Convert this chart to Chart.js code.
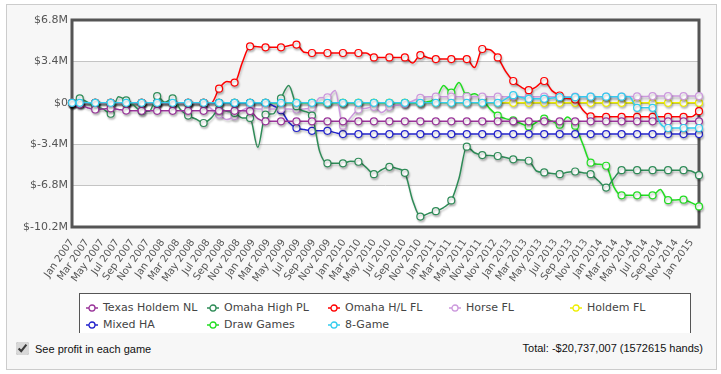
<!DOCTYPE html>
<html>
<head>
<meta charset="utf-8">
<script src="https://cdn.jsdelivr.net/npm/chart.js@4.4.1/dist/chart.umd.min.js"></script>
<style>
  body { margin: 0; width: 721px; height: 374px; background: #fff; position: relative; overflow: hidden; font-family: "DejaVu Sans", sans-serif; }
  #panel { position: absolute; left: 6px; top: 4px; width: 709px; height: 364px; border: 1px solid #ccc; background: #f7f7f7; }
  #chart { position: absolute; left: 0; top: 0; }
  #legend { position: absolute; left: 79px; top: 293px; width: 612px; height: 50px; border: 1px solid #555; background: #fff;
            display: grid; grid-template-columns: repeat(5, 121px); grid-auto-rows: 17px; padding: 5px 0 0 6px; box-sizing: border-box;
            font-size: 11px; color: #444; }
  #legend .item { display: flex; align-items: center; white-space: nowrap; }
  #legend svg { margin-right: 5px; }
  #footer { position: absolute; left: 7px; top: 333px; width: 708px; height: 35px; background: #f7f7f7;
            font-family: "Liberation Sans", Arial, sans-serif; font-size: 11px; color: #111; }
  #footer input { position: absolute; left: 9px; top: 9px; width: 13px; height: 13px; margin: 0; accent-color: #d8d8d8; }
  #footer .see { position: absolute; left: 28px; top: 9px; line-height: 14px; }
  #footer .total { position: absolute; right: 12px; top: 8px; line-height: 14px; }
</style>
</head>
<body>
<div id="panel"></div>
<canvas id="chart" width="721" height="290"></canvas>
<div id="legend"></div>
<div id="footer">
  <input type="checkbox" checked>
  <span class="see">See profit in each game</span>
  <span class="total">Total: -$20,737,007 (1572615 hands)</span>
</div>
<script>
// tick labels (every other data slot)
const xLabels = [
  "Jan 2007","Mar 2007","May 2007","Jul 2007","Sep 2007","Nov 2007",
  "Jan 2008","Mar 2008","May 2008","Jul 2008","Sep 2008","Nov 2008",
  "Jan 2009","Mar 2009","May 2009","Jul 2009","Sep 2009","Nov 2009",
  "Jan 2010","Mar 2010","May 2010","Jul 2010","Sep 2010","Nov 2010",
  "Jan 2011","Mar 2011","May 2011","Nov 2011","Nov 2012",
  "Jan 2013","Mar 2013","May 2013","Jul 2013","Sep 2013","Nov 2013",
  "Jan 2014","Mar 2014","May 2014","Jul 2014","Sep 2014","Nov 2014","Jan 2015"
];
const yTicks = [-10.2, -6.8, -3.4, 0, 3.4, 6.8];

const gameNames = ["Texas Holdem NL","Omaha High PL","Omaha H/L FL","Horse FL","Holdem FL","Mixed HA","Draw Games","8-Game"];
const gameColors = ["#993399","#2E8B57","#FF0000","#CC99DD","#EEEE00","#2222CC","#22DD22","#33CCEE"];

// profit in $M, one value per data slot (82 slots)
const texasNL = [
  0,-0.14,-0.4,-0.55,-0.5,-0.45,-0.55,-0.64,-0.66,-0.66,
  -0.66,-0.66,-0.66,-0.66,-0.66,-0.66,-0.66,-0.66,-0.66,-0.66,
  -0.66,-0.66,-0.66,-0.68,-1.3,-1.52,-1.52,-1.52,-1.52,-1.52,
  -1.52,-1.52,-1.52,-1.52,-1.52,-1.52,-1.52,-1.52,-1.52,-1.52,
  -1.52,-1.52,-1.52,-1.52,-1.52,-1.52,-1.52,-1.52,-1.52,-1.52,
  -1.52,-1.52,-1.52,-1.52,-1.52,-1.52,-1.52,-1.52,-1.52,-1.52,
  -1.52,-1.52,-1.52,-1.52,-1.52,-1.52,-1.52,-1.52,-1.52,-1.52,
  -1.52,-1.52,-1.52,-1.52,-1.52,-1.52,-1.52,-1.52,-1.52,-1.52,
  -1.52,-1.52
];
const omahaPL = [
  0,0.36,0.05,-0.33,-0.5,-0.9,0.5,0.2,-0.22,-0.69,
  -0.69,0.55,0.05,0.36,-0.55,-1.05,-1.33,-1.66,-1.24,-0.55,
  -0.69,-0.83,-1.24,-1.24,-3.65,-0.97,-0.91,0.36,1.43,-0.28,
  -0.69,-1.05,-4.01,-4.97,-4.97,-4.97,-4.8,-4.84,-5.3,-5.86,
  -5.5,-5.26,-5.4,-5.75,-8.0,-9.34,-9.1,-8.9,-8.6,-8.02,
  -6.2,-3.6,-4.1,-4.29,-4.33,-4.37,-4.5,-4.64,-4.7,-4.76,
  -5.6,-5.72,-5.8,-5.86,-5.7,-5.64,-5.75,-5.86,-6.4,-6.96,
  -6.2,-5.53,-5.53,-5.53,-5.53,-5.53,-5.53,-5.53,-5.53,-5.53,
  -5.6,-5.94
];
const omahaHL = [
  0,0,0,0,0,0,0,0,0,0,
  0,0,0,0,0,0,0,0,0,1.16,
  1.75,1.66,3.3,4.64,4.6,4.56,4.56,4.56,4.69,4.78,
  4.15,4.09,4.09,4.09,4.09,4.09,4.09,4.09,4.09,3.73,
  3.73,3.73,3.73,3.73,3.26,3.92,3.7,3.59,3.59,3.59,
  3.59,3.59,2.9,4.42,4.36,3.73,2.6,1.79,1.3,1.04,
  1.33,1.79,1.0,0.6,0.35,0.27,-0.6,-1.11,-1.15,-1.15,
  -1.15,-1.15,-1.15,-1.15,-1.15,-1.15,-1.15,-1.15,-1.15,-1.15,
  -1.15,-0.69
];
const horseFL = [
  0,0,0,0,0,0,0,0,0,0,
  0,0,0,0,0,0,0,0,-0.5,-0.97,
  -1.38,-1.1,-0.6,-0.41,-0.5,-0.5,-0.5,-0.5,-0.5,-0.55,
  -0.5,-0.41,0.41,0.45,1.0,-1.88,-1.2,-0.55,-0.45,-0.33,
  -0.8,-0.33,-0.2,-0.1,0.15,0.41,0.5,0.5,0.5,0.5,
  0.5,0.5,0.5,0.5,0.5,0.5,0.5,0.5,0.5,0.5,
  0.5,0.5,0.5,0.5,0.5,0.5,0.5,0.5,0.5,0.5,
  0.5,0.5,0.52,0.52,0.52,0.55,0.55,0.55,0.55,0.55,
  0.55,0.55
];
const holdemFL = [
  0,0,0,0,0,0,0,0,0,0,
  0,0,0,0,0,0,0,0,0,0,
  0,0,0,0,0,0,0,0,0,0,
  0,0,0,0,0,0,0,0,0,0,
  0,0,0,0,0,0,0,0,0,0,
  0,0,0,0,0,0,0,0,0,0,
  0,0,0,0,0,0,0,0,0,0,
  0,0,0,0,0,0,0,0,0,0,
  0,0
];
const mixedHA = [
  0,0,0,0,0,0,0,0,0,0,
  0,0,0,0,0,0,0,0,0,0,
  0,0,0,0,0,0,-0.25,-0.61,-1.6,-2.07,
  -2.2,-2.3,-2.3,-2.3,-2.45,-2.57,-2.57,-2.57,-2.57,-2.57,
  -2.57,-2.57,-2.57,-2.57,-2.57,-2.57,-2.57,-2.57,-2.57,-2.57,
  -2.57,-2.57,-2.57,-2.57,-2.57,-2.57,-2.57,-2.57,-2.57,-2.57,
  -2.57,-2.57,-2.57,-2.57,-2.57,-2.57,-2.57,-2.57,-2.57,-2.57,
  -2.57,-2.57,-2.57,-2.57,-2.57,-2.57,-2.57,-2.57,-2.57,-2.57,
  -2.57,-2.57
];
const drawGames = [
  0,0,0,0,0,0,0,0,0,0,
  0,0,0,0,0,0,0,0,0,0,
  0,0,0,0,0,0,0,0,0,0,
  0,0,0,0,0,0,0,0,0,0,
  0,0,0,0,0,0,0.1,0.3,1.43,0.83,
  1.66,0.55,0.75,0.3,-0.5,-1.05,-1.3,-1.44,-1.7,-1.94,
  -1.6,-1.3,-1.5,-1.8,-1.16,-1.88,-3.4,-4.92,-5.05,-5.17,
  -6.9,-7.6,-7.6,-7.6,-7.6,-7.6,-7.13,-8.0,-7.98,-7.96,
  -8.2,-8.51
];
const eightGame = [
  0,0,0,0,0,0,0,0,0,0,
  0,0,0,0,0,0,0,0,0,0,
  0,0,0,0,0,0,0,0,0,0,
  0,0,0,0,0,0,0,0,0,0,
  0,0,0,0,0,0,0,0,0,0,
  0,0,0,0,0,0,0.3,0.63,0.45,0.33,
  0.33,0.33,0.4,0.46,0.46,0.46,0.5,0.5,0.5,0.5,
  0.5,0.5,0.5,-0.41,-0.41,-0.41,-1.7,-2.07,-2.07,-2.07,
  -2.07,-2.07
];

const gameSeries = [texasNL, omahaPL, omahaHL, horseFL, holdemFL, mixedHA, drawGames, eightGame];
// lower = drawn on top
const drawOrder = [1, 2, 3, 4, 7, 5, 6, 0];
const slots = texasNL.map((_, i) => i);

// html legend
const legendEl = document.getElementById("legend");
gameNames.forEach((name, i) => {
  const c = gameColors[i];
  legendEl.insertAdjacentHTML("beforeend",
    `<div class="item"><svg width="12" height="8"><line x1="0" y1="4" x2="12" y2="4" stroke="${c}" stroke-width="1.5"/>` +
    `<circle cx="6" cy="4" r="3" fill="#fff" stroke="${c}" stroke-width="1.3"/></svg>${name}</div>`);
});

const plotBands = {
  id: "plotBands",
  beforeDraw(chart) {
    const { ctx, chartArea: a, scales: { y } } = chart;
    ctx.save();
    ctx.fillStyle = "#fff";
    ctx.fillRect(a.left, a.top, a.width, a.height);
    ctx.fillStyle = "#f3f3f3";
    [[0, 3.4], [-6.8, -3.4]].forEach(([lo, hi]) => {
      const top = y.getPixelForValue(hi), bot = y.getPixelForValue(lo);
      ctx.fillRect(a.left, top, a.width, bot - top);
    });
    ctx.restore();
  },
  beforeDatasetsDraw(chart) {
    const { ctx, chartArea: a } = chart;
    ctx.save();
    ctx.strokeStyle = "#555";
    ctx.lineWidth = 3;
    ctx.strokeRect(a.left, a.top, a.width, a.height);
    ctx.restore();
  },
  beforeDatasetDraw(chart) {
    const ctx = chart.ctx;
    ctx.save();
    ctx.shadowColor = "rgba(0,0,0,0.22)";
    ctx.shadowOffsetX = 1;
    ctx.shadowOffsetY = 2;
    ctx.shadowBlur = 2;
  },
  afterDatasetDraw(chart) {
    chart.ctx.restore();
  }
};

new Chart(document.getElementById("chart"), {
  type: "line",
  data: {
    labels: slots,
    datasets: gameSeries.map((vals, i) => ({
      label: gameNames[i],
      data: vals,
      order: drawOrder[i],
      borderColor: gameColors[i],
      borderWidth: 1.5,
      cubicInterpolationMode: "monotone",
      pointRadius: c => (c.dataIndex === 0 || c.dataIndex % 2 === 1) ? 3.5 : 0,
      pointBackgroundColor: "#fff",
      pointBorderColor: gameColors[i],
      pointBorderWidth: 1.2,
      clip: false
    }))
  },
  options: {
    responsive: false,
    devicePixelRatio: 1,
    animation: false,
    layout: { padding: { top: 20, right: 22, left: 0, bottom: 0 } },
    plugins: { legend: { display: false }, tooltip: { enabled: false } },
    scales: {
      x: { type: "category", display: false, offset: false },
      x2: {
        type: "linear", position: "bottom", min: 0, max: 41.5,
        afterBuildTicks: s => { s.ticks = xLabels.map((_, i) => ({ value: i })); },
        afterFit: s => { s.height = 63; },
        grid: { display: false }, border: { display: false },
        ticks: {
          autoSkip: false, minRotation: 55, maxRotation: 55, padding: 2,
          color: "#555", font: { family: "DejaVu Sans", size: 10 },
          callback: v => xLabels[v]
        }
      },
      y: {
        min: -10.2, max: 6.8,
        afterBuildTicks: s => { s.ticks = yTicks.map(v => ({ value: v })); },
        afterFit: s => { s.width = 72; },
        border: { display: false },
        grid: {
          drawTicks: false,
          color: c => c.tick && c.tick.value === 0 ? "#999" : "#c4c4c4",
          lineWidth: c => c.tick && c.tick.value === 0 ? 2 : 1
        },
        ticks: {
          padding: 4, color: "#555", font: { family: "DejaVu Sans", size: 11 },
          callback: v => v === 0 ? "$0" : "$" + v.toFixed(1) + "M"
        }
      }
    }
  },
  plugins: [plotBands]
});
</script>
</body>
</html>
